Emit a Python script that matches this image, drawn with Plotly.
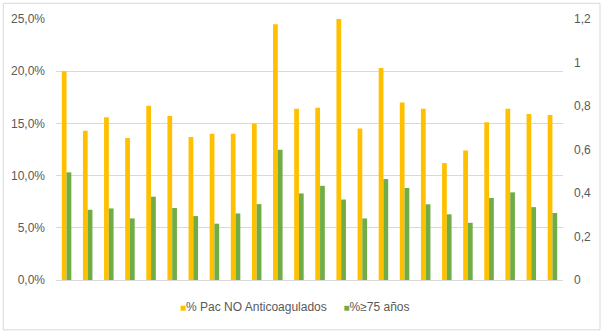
import plotly.graph_objects as go

categories = [f"C{i}" for i in range(1, 25)]
pac_no_anticoagulados = [0.200, 0.143, 0.156, 0.136, 0.167, 0.157, 0.137, 0.140, 0.140, 0.150,
                         0.245, 0.164, 0.165, 0.250, 0.145, 0.203, 0.170, 0.164, 0.112, 0.124,
                         0.151, 0.164, 0.159, 0.158]
mayores_75 = [0.495, 0.323, 0.329, 0.283, 0.383, 0.331, 0.294, 0.259, 0.306, 0.349,
              0.599, 0.398, 0.433, 0.370, 0.283, 0.464, 0.423, 0.348, 0.302, 0.263,
              0.377, 0.403, 0.335, 0.308]
left_ticks = [0, 0.05, 0.10, 0.15, 0.20, 0.25]
right_ticks = [0, 0.2, 0.4, 0.6, 0.8, 1.0, 1.2]
series_names = ["% Pac NO Anticoagulados", "%≥75 años"]
series_colors = ["#FFC000", "#70AD47"]

FONT = "Liberation Sans"
GRAY = "#595959"

fig = go.Figure()
fig.add_trace(go.Bar(x=categories, y=pac_no_anticoagulados, name=series_names[0],
                     marker=dict(color=series_colors[0], line=dict(width=0)), offsetgroup="a",
                     yaxis="y", showlegend=False))
fig.add_trace(go.Bar(x=categories, y=mayores_75, name=series_names[1],
                     marker=dict(color=series_colors[1], line=dict(width=0)), offsetgroup="b",
                     yaxis="y2", showlegend=False))

legend_text = "     ".join(
    f"<span style='color:{c};font-size:10px'>■</span>{n}" for n, c in zip(series_names, series_colors)
)

fig.update_layout(
    width=604, height=335,
    margin=dict(l=56, r=41, t=19, b=55),
    paper_bgcolor="white", plot_bgcolor="white",
    separators=",.",
    barmode="group", bargap=0.55, bargroupgap=0,
    showlegend=False,
    font=dict(family=FONT, size=12, color=GRAY),
    xaxis=dict(showticklabels=False, showgrid=False, showline=True, linecolor="#d9d9d9",
               linewidth=1, ticks="", zeroline=False),
    yaxis=dict(range=[0, 0.25], tickvals=left_ticks, tickformat=".1%", showgrid=True,
               gridcolor="#d9d9d9", gridwidth=1, zeroline=False, showline=False, ticks="",
               ticklabelstandoff=10, tickfont=dict(family=FONT, size=12, color=GRAY)),
    yaxis2=dict(range=[0, 1.2], tickvals=right_ticks, overlaying="y", side="right",
                showgrid=False, zeroline=False, showline=False, ticks="",
                ticklabelstandoff=10, tickfont=dict(family=FONT, size=12, color=GRAY)),
    annotations=[dict(text=legend_text, xref="paper", yref="paper", x=0.47, y=-0.103,
                      xanchor="center", yanchor="middle", showarrow=False,
                      font=dict(family=FONT, size=12, color=GRAY))],
    shapes=[dict(type="rect", xref="paper", yref="paper", x0=-0.104, x1=1.073, y0=-0.191, y1=1.060,
                 line=dict(color="#d9d9d9", width=1), fillcolor="rgba(0,0,0,0)", layer="below")],
)

fig.write_html("out.html", config={"displayModeBar": False},
               post_script="document.body.style.margin='0';")
